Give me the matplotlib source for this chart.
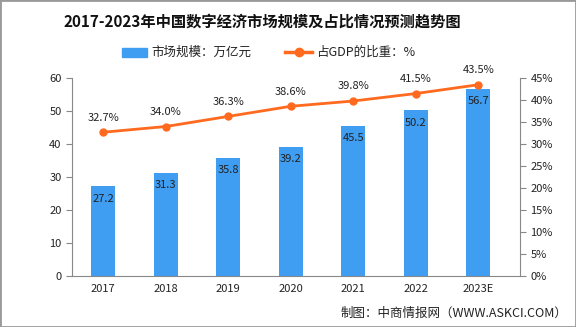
import matplotlib
matplotlib.use("Agg")
import matplotlib.pyplot as plt
from matplotlib.patches import Rectangle

plt.rcParams['font.family'] = ['Noto Sans CJK SC', 'DejaVu Sans']

categories = ['2017', '2018', '2019', '2020', '2021', '2022', '2023E']
market_size = [27.2, 31.3, 35.8, 39.2, 45.5, 50.2, 56.7]
gdp_share = [32.7, 34.0, 36.3, 38.6, 39.8, 41.5, 43.5]
left_ticks = [0, 10, 20, 30, 40, 50, 60]
right_ticks = [0, 5, 10, 15, 20, 25, 30, 35, 40, 45]

bar_color = '#3F9EF2'
line_color = '#FF6A1F'
axis_color = '#888888'

fig = plt.figure(figsize=(5.76, 3.27), dpi=100)
ax = fig.add_axes([0.125, 0.156, 0.778, 0.605])
x = list(range(len(categories)))
ax.bar(x, market_size, width=0.38, color=bar_color, zorder=2)
ax.set_xlim(-0.5, 6.67)
ax.set_ylim(0, 60)
ax.set_yticks(left_ticks)
ax.set_xticks(x)
ax.set_xticklabels(categories)
for i, v in enumerate(market_size):
    ax.text(i, v - 2.2, f'{v:.1f}', ha='center', va='top', fontsize=8, color='#222222', zorder=4)

ax2 = ax.twinx()
ax2.set_ylim(0, 45)
ax2.set_yticks(right_ticks)
ax2.set_yticklabels([f'{t}%' for t in right_ticks])
ax2.plot(x, gdp_share, color=line_color, lw=2, marker='o', ms=5, zorder=3)
for i, v in enumerate(gdp_share):
    ax2.text(i, v + 2.2, f'{v:.1f}%', ha='center', va='bottom', fontsize=8, color='#222222')

for a in (ax, ax2):
    a.spines['top'].set_visible(False)
    a.spines['left'].set_color(axis_color)
    a.spines['right'].set_color(axis_color)
    a.spines['bottom'].set_color(axis_color)
    a.tick_params(colors='#222222', labelsize=8, length=4, color=axis_color)
ax.spines['right'].set_visible(False)
ax2.spines['left'].set_visible(False)
ax2.spines['bottom'].set_visible(False)
ax.tick_params(axis='x', length=0, pad=6)

fig.text(0.455, 0.935, '2017-2023年中国数字经济市场规模及占比情况预测趋势图',
         ha='center', va='center', fontsize=11, fontweight='bold', color='#111111')

# legend
fig.patches.append(Rectangle((122/576, 1-57/327), 25/576, 9/327, transform=fig.transFigure,
                             color=bar_color, figure=fig))
fig.text(151/576, 1-52/327, '市场规模：万亿元', ha='left', va='center', fontsize=9, color='#222222')
fig.lines.append(plt.Line2D([285/576, 312/576], [1-52/327, 1-52/327], transform=fig.transFigure,
                            color=line_color, lw=2.5, figure=fig))
fig.lines.append(plt.Line2D([298.5/576], [1-52/327], transform=fig.transFigure,
                            color=line_color, marker='o', ms=6, lw=0, figure=fig))
fig.text(316/576, 1-52/327, '占GDP的比重：%', ha='left', va='center', fontsize=9, color='#222222')

fig.text(0.985, 1-313/327, '制图：中商情报网（WWW.ASKCI.COM）', ha='right', va='center',
         fontsize=9, color='#222222')

fig.patches.append(Rectangle((0, 0), 1, 1, transform=fig.transFigure, fill=False,
                             edgecolor='#999999', lw=2, figure=fig))

fig.savefig('out.png', dpi=100)
